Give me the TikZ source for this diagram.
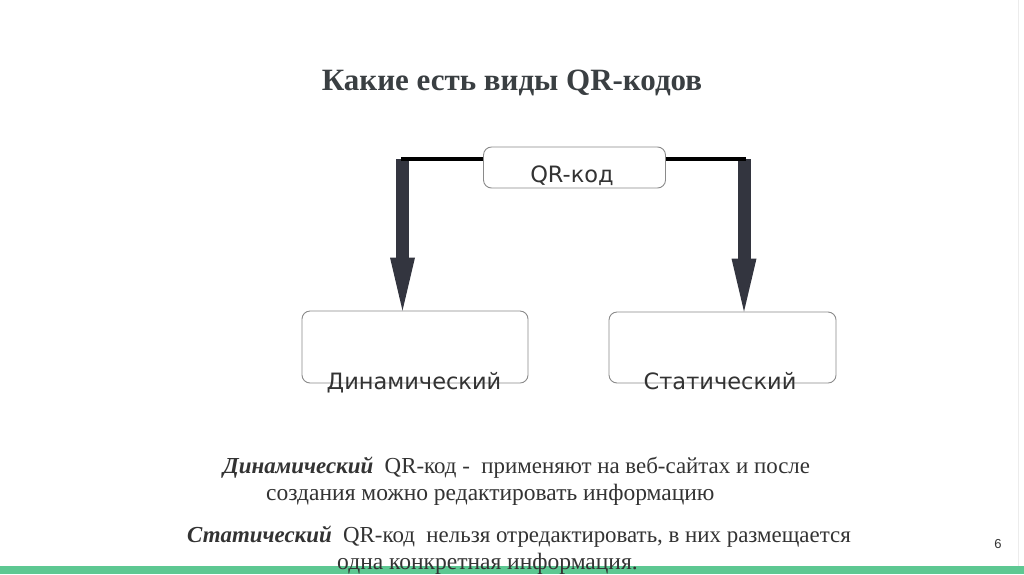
\documentclass[tikz,border=0pt]{standalone}
\usepackage{fontspec}
\setmainfont{Liberation Serif}
\newfontfamily\boxfont{DejaVu Sans}
\newfontfamily\numfont{Liberation Sans}
\usetikzlibrary{arrows.meta}
\definecolor{titlegray}{HTML}{3A3F42}
\definecolor{textgray}{HTML}{333333}
\definecolor{arrowdark}{HTML}{33353F}
\definecolor{boxborder}{HTML}{8A8A8A}
\definecolor{greenbar}{HTML}{5DC892}
\tikzset{
  roundbox/.style={draw=boxborder, line width=0.9pt, rounded corners=8pt, fill=white},
  boxlabel/.style={font=\boxfont\fontsize{22.5}{26}\selectfont, text=textgray, inner sep=0pt, anchor=base},
  bodytext/.style={font=\fontsize{22.9}{26}\selectfont, text=textgray, inner sep=0pt, anchor=base west},
  bodywide/.style={bodytext, font=\fontsize{23.5}{27}\selectfont},
  feedline/.style={draw=black, line width=4pt},
  bigarrow/.style={draw=arrowdark, line width=13pt, -{Triangle[width=25pt,length=53pt,line width=0pt]}}
}
\begin{document}
\begin{tikzpicture}[x=1pt,y=-1pt]
\useasboundingbox (0,0) rectangle (1024,574);
\fill[white] (0,0) rectangle (1024,574);
\draw[gray!15, line width=0.8pt] (1018,0) -- (1018,574);
\fill[greenbar] (0,566) rectangle (1024,574);

% title
\node[font=\bfseries\fontsize{31}{36}\selectfont, text=titlegray, inner sep=0pt, anchor=base] (title) at (512,90) {Какие есть виды QR-кодов};

% boxes
\node[roundbox, minimum width=182pt, minimum height=41pt, inner sep=0pt] (qr) at (574.5,167.5) {};
\node[roundbox, minimum width=226pt, minimum height=72pt, inner sep=0pt] (dyn) at (415,347) {};
\node[roundbox, minimum width=227pt, minimum height=71pt, inner sep=0pt] (stat) at (722.5,347.5) {};

\node[boxlabel] (qrl) at (572,182) {QR-код};
\node[boxlabel] (dynl) at (414,389) {Динамический};
\node[boxlabel] (statl) at (720,389) {Статический};

% connectors
\coordinate (lt) at (402.5,159);
\coordinate (rt) at (744,159);
\draw[bigarrow] (lt) -- (lt |- dyn.north);
\draw[bigarrow] (rt) -- (rt |- stat.north);
\draw[feedline] (qr.west |- lt) -- ([xshift=-2pt]lt);
\draw[feedline] (qr.east |- rt) -- ([xshift=2pt]rt);

% body text
\node[bodytext] (t1) at (223,473) {\textbf{\textit{Динамический}}\ \ QR-код -\ \ применяют на веб-сайтах и после};
\node[bodywide] (t2) at (266,500) {создания можно редактировать информацию};
\node[bodytext] (t3) at (187,542) {\textbf{\textit{Статический}}\ \ QR-код\ \ нельзя отредактировать, в них размещается};
\node[bodywide] (t4) at (337,569) {одна конкретная информация.};

% page number
\node[font=\numfont\fontsize{13}{15}\selectfont, text=textgray, inner sep=0pt, anchor=base] (pg) at (998,548) {6};
\end{tikzpicture}
\end{document}
